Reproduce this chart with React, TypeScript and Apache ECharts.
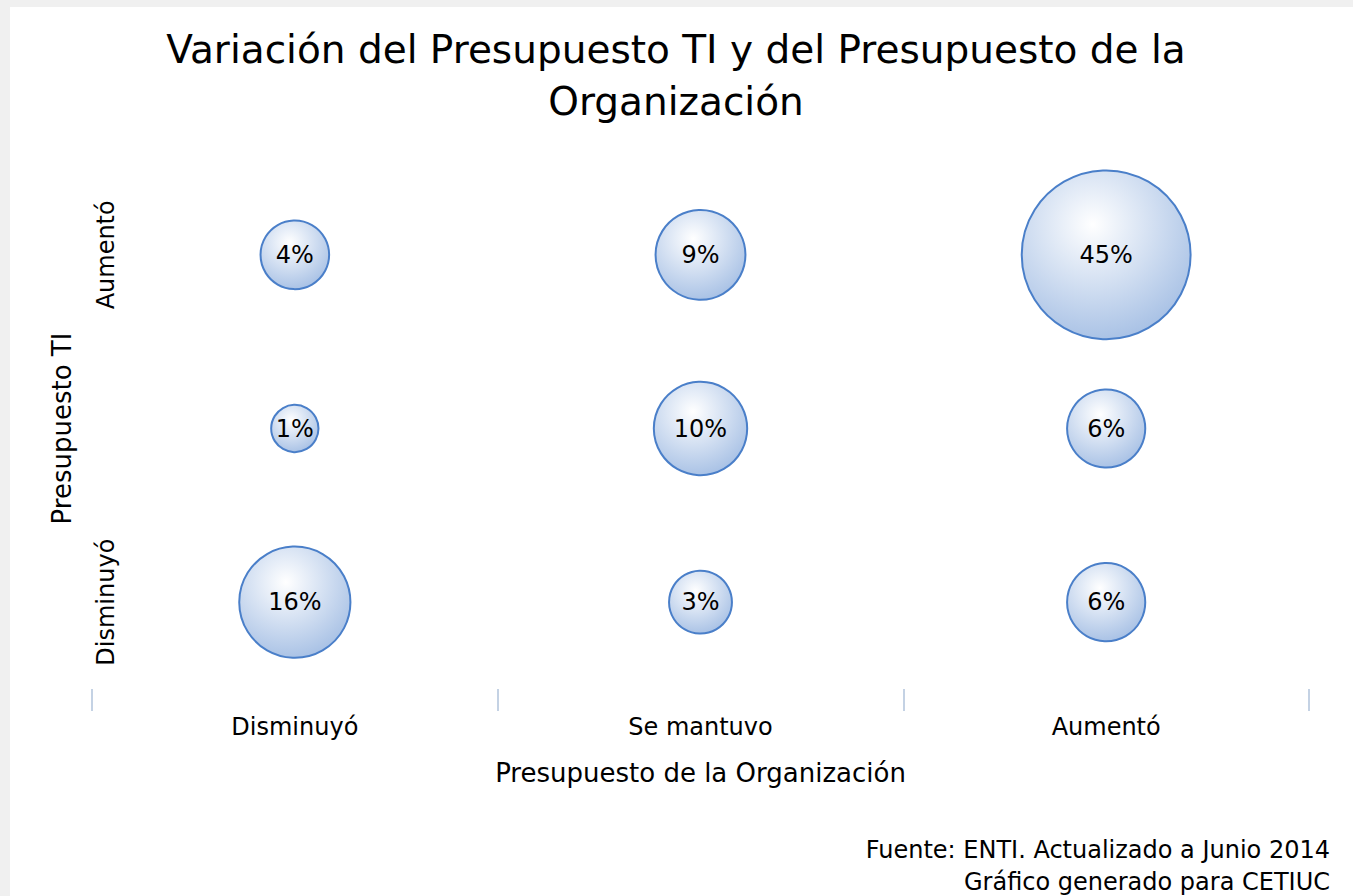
import React, { useEffect, useRef } from "react";
import * as echarts from "echarts";

const xCategories = ["Disminuyó", "Se mantuvo", "Aumentó"];
const yCategories = ["Disminuyó", "Se mantuvo", "Aumentó"];
// rows by Presupuesto TI (y), columns by Presupuesto de la Organización (x)
const rowDisminuyo = [16, 3, 6];
const rowSeMantuvo = [1, 10, 6];
const rowAumento = [4, 9, 45];
const titleText = "Variación del Presupuesto TI y del Presupuesto de la\nOrganización";
const xAxisName = "Presupuesto de la Organización";
const yAxisName = "Presupuesto TI";
const creditLine1 = "Fuente: ENTI. Actualizado a Junio 2014";
const creditLine2 = "Gráfico generado para CETIUC";

const FONT = "DejaVu Sans";

export default function App() {
  const ref = useRef<HTMLDivElement>(null);
  useEffect(() => {
    if (!ref.current) return;
    const chart = echarts.init(ref.current, null, { renderer: "svg" });
    const rows = [rowDisminuyo, rowSeMantuvo, rowAumento];
    const data: number[][] = [];
    rows.forEach((row, yi) => row.forEach((v, xi) => data.push([xi, yi, v])));
    const fill = new echarts.graphic.RadialGradient(0.42, 0.32, 0.78, [
      { offset: 0, color: "#ffffff" },
      { offset: 1, color: "#9ebae2" },
    ]);
    chart.setOption({
      animation: false,
      backgroundColor: "#ffffff",
      textStyle: { fontFamily: FONT },
      title: {
        text: titleText,
        left: 661,
        textAlign: "center",
        top: 11,
        textStyle: { fontFamily: FONT, fontSize: 39, fontWeight: "normal", color: "#000", lineHeight: 52 },
      },
      grid: { left: 82, right: 44, top: 161, bottom: 207 },
      xAxis: {
        type: "category",
        data: xCategories,
        boundaryGap: true,
        axisLine: { show: false },
        axisTick: { show: true, length: 22, lineStyle: { color: "#c4d2e4", width: 2 } },
        axisLabel: { margin: 26, fontSize: 24, color: "#000", fontFamily: FONT },
        splitLine: { show: false },
        name: xAxisName,
        nameLocation: "middle",
        nameGap: 71,
        nameTextStyle: { fontSize: 26, color: "#000", fontFamily: FONT },
      },
      yAxis: {
        type: "category",
        data: yCategories,
        boundaryGap: true,
        axisLine: { show: false },
        axisTick: { show: false },
        axisLabel: { margin: -26, rotate: 90, fontSize: 24, color: "#000", fontFamily: FONT },
        splitLine: { show: false },
        name: yAxisName,
        nameLocation: "middle",
        nameGap: 17,
        nameTextStyle: { fontSize: 26, color: "#000", fontFamily: FONT },
      },
      series: [
        {
          type: "scatter",
          data,
          symbol: "circle",
          symbolSize: (val: number[]) => 26 + 21.3 * Math.sqrt(val[2]),
          itemStyle: { color: fill, borderColor: "#4a7fc9", borderWidth: 2, opacity: 1 },
          label: {
            show: true,
            position: "inside",
            formatter: (p: any) => p.value[2] + "%",
            fontSize: 24,
            color: "#000",
            fontFamily: FONT,
          },
          emphasis: { disabled: true },
        },
      ],
      graphic: [
        {
          type: "text",
          right: 23,
          top: 831,
          style: { text: creditLine1, fontSize: 24, fill: "#000", fontFamily: FONT, textAlign: "right" },
        },
        {
          type: "text",
          right: 23,
          top: 863,
          style: { text: creditLine2, fontSize: 24, fill: "#000", fontFamily: FONT, textAlign: "right" },
        },
      ],
    });
    return () => chart.dispose();
  }, []);
  return (
    <div style={{ position: "fixed", left: 0, top: 0, width: 1353, height: 896, background: "#f0f0f0", overflow: "hidden" }}>
      <div ref={ref} style={{ position: "absolute", left: 10, top: 7, width: 1343, height: 889, background: "#fff" }} />
    </div>
  );
}
